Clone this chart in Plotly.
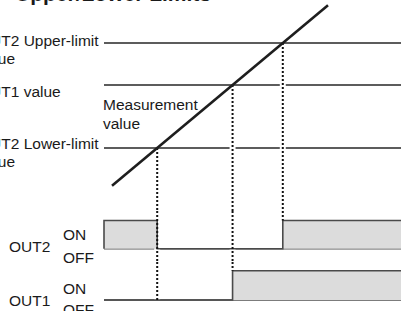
import plotly.graph_objects as go

# ---------------- data ----------------
TITLE = "Upper/Lower Limits"
LEVEL_KEYS = ["lower", "t1", "upper"]
LEVEL_VALUES = [30, 60, 80]            # OUT2 lower limit, OUT1 value, OUT2 upper limit
MEAS_TIME = [112, 328]                 # measurement ramp start / end time
MEAS_VALUE = [12, 98]                  # measurement value at those times
TIME_SPAN = [104, 410]                 # window in which levels / outputs are drawn
OUT_NAMES = ["OUT2", "OUT1"]
STATE_NAMES = ["ON", "OFF"]
LABEL_LINES = {
    "upper": ["OUT2 Upper-limit", "value"],
    "t1": ["OUT1 value"],
    "lower": ["OUT2 Lower-limit", "value"],
    "meas": ["Measurement", "value"],
}

# ---------------- layout constants (pixels) ----------------
W, H = 401, 311
FONT = "Liberation Sans, Arial, Helvetica, sans-serif"
MEAS_RANGE = [0, 100.5]
PANEL_PX = {"meas": (0, 211), "OUT2": (211, 262), "OUT1": (262, 311)}
STATE_PX = {"OUT2": (248.8, 220.5), "OUT1": (300.0, 270.7)}   # (OFF, ON)
# where each dotted drop line ends: (output, state)
DROP_END = {"lower": ("OUT1", 0), "t1": ("OUT1", 1), "upper": ("OUT2", 1)}


def dom(top, bottom):
    return [1 - bottom / H, 1 - top / H]


def state_range(name):
    top, bottom = PANEL_PX[name]
    off, on = STATE_PX[name]
    k = off - on
    return [-(bottom - off) / k, 1 + (on - top) / k]


def crossing(level):
    t0, t1 = MEAS_TIME
    v0, v1 = MEAS_VALUE
    return t0 + (level - v0) * (t1 - t0) / (v1 - v0)


levels = dict(zip(LEVEL_KEYS, LEVEL_VALUES))
cross = {k: crossing(v) for k, v in levels.items()}
ts, te = TIME_SPAN


def step_path(initial, switches):
    xs, ys = [ts], [0]
    if initial:
        xs.append(ts)
        ys.append(1)
    s = initial
    for t in switches:
        xs += [t, t]
        ys += [s, 1 - s]
        s = 1 - s
    xs.append(te)
    ys.append(s)
    return xs, ys


# OUT2 is ON outside [lower, upper]; OUT1 is ON above t1 value
out_paths = {
    "OUT2": step_path(1, [cross["lower"], cross["upper"]]),
    "OUT1": step_path(0, [cross["t1"]]),
}
yax = {"meas": "y", "OUT2": "y2", "OUT1": "y3"}

fig = go.Figure()


def seg(x, y, axis, color, width, dash=None, **kw):
    fig.add_trace(go.Scatter(
        x=x, y=y, yaxis=axis, mode="lines", hoverinfo="skip", showlegend=False,
        line=dict(color=color, width=width, dash=dash), **kw))


# threshold lines
for k in LEVEL_KEYS:
    seg([ts, te], [levels[k], levels[k]], "y", "#5c5c5c", 2)

# OFF baselines
for o in OUT_NAMES:
    seg([ts, te], [0, 0], yax[o], "#505050", 1.6)

# drop line segments (per axis)
drop_segments = []
for k in LEVEL_KEYS:
    t = cross[k]
    end_out, end_state = DROP_END[k]
    drop_segments.append(([t, t], [levels[k], MEAS_RANGE[0]], "y"))
    for o in OUT_NAMES:
        r = state_range(o)
        if o == end_out:
            drop_segments.append(([t, t], [r[1], end_state], yax[o]))
            break
        drop_segments.append(([t, t], [r[1], r[0]], yax[o]))

# white halos
for x, y, a in drop_segments:
    yy = list(y)
    if a == "y":
        yy[0] = yy[0] - 1.3
    seg(x, yy, a, "white", 6)

# output waveforms
for o in OUT_NAMES:
    xs, ys = out_paths[o]
    seg(xs, ys, yax[o], "#4a4a4a", 1.6, fill="tozeroy", fillcolor="#dcdcdc")

# dotted drop lines
for x, y, a in drop_segments:
    seg(x, y, a, "#111111", 2, dash="2px,2px")

# measurement ramp
seg(MEAS_TIME, MEAS_VALUE, "y", "#1e1e1e", 2.6)

# ---------------- annotations ----------------
def label(text, left_px, cy_px, size=15.5, bold=False):
    fig.add_annotation(
        x=left_px / W, y=1 - cy_px / H, xref="paper", yref="paper",
        xanchor="left", yanchor="middle", showarrow=False, borderpad=0,
        text=f"<b>{text}</b>" if bold else text,
        font=dict(family=FONT, size=size, color="#1a1a1a"))


label(TITLE, 14, -6, size=21, bold=True)
label(LABEL_LINES["upper"][0], -23, 40)
label(LABEL_LINES["upper"][1], -23, 58.5)
label(LABEL_LINES["t1"][0], -23, 91.5)
label(LABEL_LINES["meas"][0], 102, 105)
label(LABEL_LINES["meas"][1], 102, 123)
label(LABEL_LINES["lower"][0], -23, 143.5)
label(LABEL_LINES["lower"][1], -23, 161.5)
label(OUT_NAMES[0], 8, 246.5)
label(STATE_NAMES[0], 62, 234)
label(STATE_NAMES[1], 62, 257)
label(OUT_NAMES[1], 8, 300)
label(STATE_NAMES[0], 62, 288)
label(STATE_NAMES[1], 62, 309)

hidden = dict(visible=False, showgrid=False, zeroline=False, fixedrange=True)
fig.update_layout(
    width=W, height=H, margin=dict(l=0, r=0, t=0, b=0),
    paper_bgcolor="white", plot_bgcolor="white", showlegend=False,
    xaxis=dict(range=[0, W], domain=[0, 1], **hidden),
    yaxis=dict(range=MEAS_RANGE, domain=dom(*PANEL_PX["meas"]), anchor="x", **hidden),
    yaxis2=dict(range=state_range("OUT2"), domain=dom(*PANEL_PX["OUT2"]), anchor="x", **hidden),
    yaxis3=dict(range=state_range("OUT1"), domain=dom(*PANEL_PX["OUT1"]), anchor="x", **hidden),
)

fig.write_html(
    "out.html",
    config={"displayModeBar": False, "staticPlot": True},
    post_script="document.body.style.margin='0';document.body.style.overflow='hidden';",
)
